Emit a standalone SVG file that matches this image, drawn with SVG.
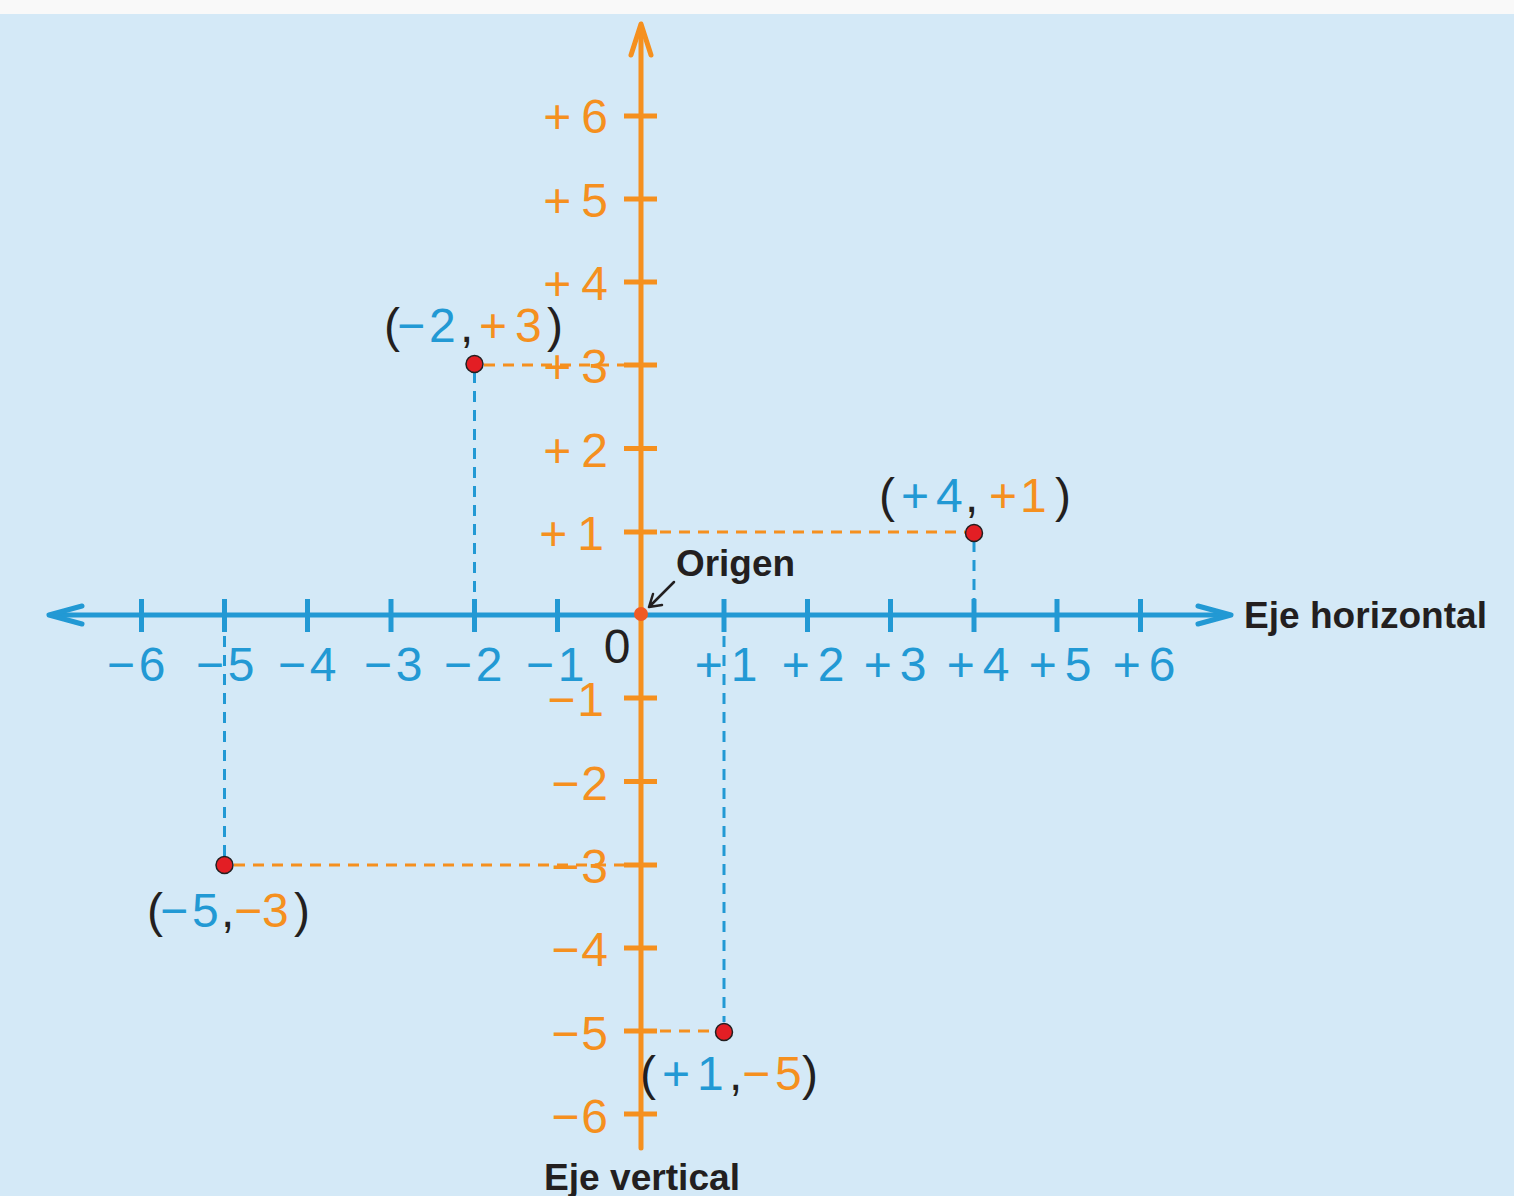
<svg xmlns="http://www.w3.org/2000/svg" width="1514" height="1196" viewBox="0 0 1514 1196">
<style>
.num{font-family:"Liberation Sans",Arial,sans-serif;font-size:48px}
.b{fill:#2299d4}
.o{fill:#f5901f}
.k{fill:#231f20}
.lbl{font-family:"Liberation Sans",Arial,sans-serif;font-weight:bold;fill:#231f20}
.axb{stroke:#2299d4;stroke-width:5;fill:none;stroke-linecap:round;stroke-linejoin:round}
.axo{stroke:#f5901f;stroke-width:5;fill:none;stroke-linecap:round;stroke-linejoin:round}
.tb{stroke:#2299d4;stroke-width:5}
.to{stroke:#f5901f;stroke-width:5}
.db{stroke:#2299d4;stroke-width:3;stroke-dasharray:11 8;fill:none}
.do{stroke:#f5901f;stroke-width:3;stroke-dasharray:11 8;fill:none}
.pt{fill:#e31e24;stroke:#231f20;stroke-width:1.5}
</style>
<rect x="0" y="0" width="1514" height="1196" fill="#d4e9f7"/>
<rect x="0" y="0" width="1514" height="14" fill="#f9f9f9"/>

<g id="connectors">
  <line class="db" x1="474.5" y1="372" x2="474.5" y2="613"/>
  <line class="do" x1="484" y1="365" x2="641" y2="365"/>
  <line class="db" x1="974" y1="541" x2="974" y2="613"/>
  <line class="do" x1="641" y1="532" x2="965" y2="532"/>
  <line class="db" x1="224.5" y1="617" x2="224.5" y2="856"/>
  <line class="do" x1="234" y1="865" x2="641" y2="865"/>
  <line class="db" x1="724" y1="617" x2="724" y2="1022"/>
  <line class="do" x1="641" y1="1031" x2="715" y2="1031"/>
  <path d="M674,582 L649,607 M649,607 L653,594 M649,607 L662,605" stroke="#231f20" stroke-width="2.5" fill="none" stroke-linecap="round"/>
</g>

<g id="horizontal-axis">
  <line class="axb" x1="52" y1="615" x2="1228" y2="615"/>
  <path class="axb" d="M82,606 L49,615 L82,624" stroke-width="6"/>
  <path class="axb" d="M1198,606 L1231,615 L1198,624" stroke-width="6"/>
  <g class="tb">
    <line x1="141.5" y1="599" x2="141.5" y2="632"/>
    <line x1="224.5" y1="599" x2="224.5" y2="632"/>
    <line x1="307.5" y1="599" x2="307.5" y2="632"/>
    <line x1="391" y1="599" x2="391" y2="632"/>
    <line x1="474.5" y1="599" x2="474.5" y2="632"/>
    <line x1="557.5" y1="599" x2="557.5" y2="632"/>
    <line x1="724" y1="599" x2="724" y2="632"/>
    <line x1="807.5" y1="599" x2="807.5" y2="632"/>
    <line x1="890.5" y1="599" x2="890.5" y2="632"/>
    <line x1="974" y1="599" x2="974" y2="632"/>
    <line x1="1057" y1="599" x2="1057" y2="632"/>
    <line x1="1140.5" y1="599" x2="1140.5" y2="632"/>
  </g>
  <g class="num b" text-anchor="middle">
    <text x="136" y="681">−<tspan dx="4">6</tspan></text>
    <text x="225" y="681">−<tspan dx="4">5</tspan></text>
    <text x="307" y="681">−<tspan dx="4">4</tspan></text>
    <text x="393" y="681">−<tspan dx="4">3</tspan></text>
    <text x="473" y="681">−<tspan dx="4">2</tspan></text>
    <text x="555" y="681">−<tspan dx="4">1</tspan></text>
    <text x="726" y="681">+<tspan dx="8">1</tspan></text>
    <text x="813" y="681">+<tspan dx="8">2</tspan></text>
    <text x="895" y="681">+<tspan dx="8">3</tspan></text>
    <text x="978" y="681">+<tspan dx="8">4</tspan></text>
    <text x="1060" y="681">+<tspan dx="8">5</tspan></text>
    <text x="1144" y="681">+<tspan dx="8">6</tspan></text>
  </g>
  <text class="num k" x="617" y="663" text-anchor="middle">0</text>
  <text class="lbl" x="1244" y="628" font-size="36" textLength="243" lengthAdjust="spacingAndGlyphs">Eje horizontal</text>
</g>

<g id="vertical-axis">
  <line class="axo" x1="641" y1="26" x2="641" y2="1148" stroke-linecap="butt"/>
  <path class="axo" d="M631,55 L641,24 L651,55" stroke-width="6"/>
  <g class="to">
    <line x1="624" y1="116" x2="657" y2="116"/>
    <line x1="624" y1="199" x2="657" y2="199"/>
    <line x1="624" y1="282" x2="657" y2="282"/>
    <line x1="624" y1="365" x2="657" y2="365"/>
    <line x1="624" y1="448.5" x2="657" y2="448.5"/>
    <line x1="624" y1="532" x2="657" y2="532"/>
    <line x1="624" y1="698" x2="657" y2="698"/>
    <line x1="624" y1="781.5" x2="657" y2="781.5"/>
    <line x1="624" y1="865" x2="657" y2="865"/>
    <line x1="624" y1="948" x2="657" y2="948"/>
    <line x1="624" y1="1031" x2="657" y2="1031"/>
    <line x1="624" y1="1114" x2="657" y2="1114"/>
  </g>
  <g class="num o" text-anchor="end">
    <text x="608" y="133">+<tspan dx="10">6</tspan></text>
    <text x="608" y="217">+<tspan dx="10">5</tspan></text>
    <text x="608" y="300">+<tspan dx="10">4</tspan></text>
    <text x="608" y="383">+<tspan dx="10">3</tspan></text>
    <text x="608" y="467">+<tspan dx="10">2</tspan></text>
    <text x="604" y="550">+<tspan dx="10">1</tspan></text>
    <text x="604" y="716">−<tspan dx="2">1</tspan></text>
    <text x="608" y="800">−<tspan dx="2">2</tspan></text>
    <text x="608" y="883">−<tspan dx="2">3</tspan></text>
    <text x="608" y="966">−<tspan dx="2">4</tspan></text>
    <text x="608" y="1050">−<tspan dx="2">5</tspan></text>
    <text x="608" y="1133">−<tspan dx="2">6</tspan></text>
  </g>
  <text class="lbl" x="544" y="1190" font-size="36" textLength="196" lengthAdjust="spacingAndGlyphs">Eje vertical</text>
</g>

<g id="origin">
  <circle cx="641" cy="614" r="7" fill="#f15a24"/>
  <text class="lbl" x="676" y="576" font-size="37" textLength="119" lengthAdjust="spacingAndGlyphs">Origen</text>
</g>

<g id="point-m2-p3">
  <circle class="pt" cx="474.5" cy="364" r="8.5"/>
  <text class="num k" y="342"><tspan x="384">(</tspan><tspan class="b" x="397">−</tspan><tspan class="b" x="429">2</tspan><tspan x="460">,</tspan><tspan class="o" x="479">+</tspan><tspan class="o" x="515">3</tspan><tspan x="547">)</tspan></text>
</g>

<g id="point-p4-p1">
  <circle class="pt" cx="974" cy="533" r="8.5"/>
  <text class="num k" y="512"><tspan x="879">(</tspan><tspan class="b" x="901">+</tspan><tspan class="b" x="936">4</tspan><tspan x="965">,</tspan><tspan class="o" x="989">+</tspan><tspan class="o" x="1020">1</tspan><tspan x="1055">)</tspan></text>
</g>

<g id="point-m5-m3">
  <circle class="pt" cx="224.5" cy="865" r="8.5"/>
  <text class="num k" y="927"><tspan x="147">(</tspan><tspan class="b" x="160">−</tspan><tspan class="b" x="192">5</tspan><tspan x="221">,</tspan><tspan class="o" x="234">−</tspan><tspan class="o" x="262">3</tspan><tspan x="294">)</tspan></text>
</g>

<g id="point-p1-m5">
  <circle class="pt" cx="724" cy="1032" r="8.5"/>
  <text class="num k" y="1090"><tspan x="640">(</tspan><tspan class="b" x="662">+</tspan><tspan class="b" x="697">1</tspan><tspan x="729">,</tspan><tspan class="o" x="742">−</tspan><tspan class="o" x="775">5</tspan><tspan x="802">)</tspan></text>
</g>
</svg>
